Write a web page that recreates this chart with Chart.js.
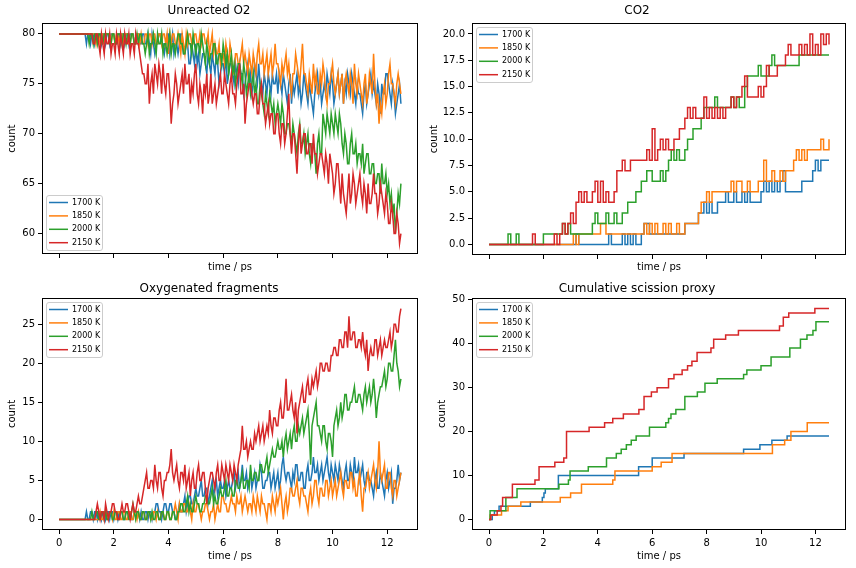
<!DOCTYPE html>
<html>
<head>
<meta charset="utf-8">
<script src="https://cdn.jsdelivr.net/npm/chart.js@4.4.0/dist/chart.umd.min.js"></script>
<style>
  html, body { margin: 0; padding: 0; background: #fff; }
  #wrap { position: relative; width: 856px; height: 568px; overflow: hidden; }
  #wrap canvas { position: absolute; }
</style>
</head>
<body>
<div id="wrap">
  <canvas id="o2" width="428" height="280" style="left:0;top:0"></canvas>
  <canvas id="co2" width="428" height="280" style="left:428px;top:0"></canvas>
  <canvas id="frag" width="428" height="288" style="left:0;top:280px"></canvas>
  <canvas id="scis" width="428" height="288" style="left:428px;top:280px"></canvas>
</div>
<script>
// temperatures + colours (matplotlib tab10)
const temps = ['1700 K', '1850 K', '2000 K', '2150 K'];
const colors = ['#1f77b4', '#ff7f0e', '#2ca02c', '#d62728'];

// O2 and fragment counts sampled every 0.05 ps, CO2 every 0.1 ps (0 .. 12.5 ps)
const dtFine = 0.05;
const dtCoarse = 0.1;

// Unreacted O2
const o2_1700 = [
  80,80,80,80,80,80,80,80,80,80,80,80,80,80,80,80,80,80,80,80,
  79,80,80,79,80,80,79,80,80,80,80,79,80,80,79,80,80,79,80,80,
  80,79,79,80,80,79,80,80,79,80,80,79,80,80,80,79,79,80,80,79,
  79,80,80,79,79,80,79,78,80,79,78,79,79,80,80,79,79,78,79,80,
  80,78,79,80,78,79,79,78,79,80,80,78,78,79,79,77,77,79,78,77,
  79,77,78,76,77,78,78,77,76,78,77,76,78,77,76,78,77,75,76,77,
  77,76,78,75,76,77,77,76,75,77,76,75,77,76,76,74,75,76,77,75,
  76,74,75,77,76,75,77,75,75,74,76,75,74,76,75,74,76,75,75,76,
  74,76,75,74,76,75,74,73,75,76,73,75,74,75,76,74,75,73,74,76,
  75,74,73,75,74,73,72,74,75,76,74,75,73,74,75,74,76,75,74,76,
  75,73,74,75,76,74,75,76,73,75,74,76,75,74,76,75,74,73,75,74,
  74,73,72,74,75,73,74,75,76,74,75,74,73,75,74,72,75,74,74,76,
  76,75,74,73,75,74,72,73,74,75,73];
const o2_1850 = [
  80,80,80,80,80,80,80,80,80,80,80,80,80,80,80,80,80,80,80,80,
  80,80,80,80,80,80,80,79,80,80,79,80,80,79,80,80,80,80,79,80,
  80,79,80,80,79,80,80,79,80,80,80,79,79,80,80,79,79,80,80,79,
  80,79,79,80,80,79,80,80,79,80,80,79,79,80,80,79,80,80,79,80,
  78,80,79,80,80,79,79,80,79,78,80,79,78,80,79,80,80,79,79,80,
  80,79,79,80,79,80,80,79,79,80,78,79,80,78,79,78,78,79,77,78,
  78,77,79,78,77,79,78,76,76,78,78,77,77,78,79,77,78,77,76,78,
  77,76,78,77,76,78,79,77,77,78,76,77,78,76,77,78,76,77,79,77,
  77,76,75,77,76,77,78,76,77,75,74,76,76,78,77,76,75,77,79,76,
  76,75,74,76,75,74,77,75,76,74,74,76,75,77,76,74,73,75,75,76,
  77,75,74,75,76,74,75,76,73,75,76,75,74,76,75,73,77,75,74,76,
  75,74,73,75,76,73,74,76,75,74,78,75,73,74,71,73,72,74,75,73,
  74,76,77,75,75,74,73,75,76,75,74];
const o2_2000 = [
  80,80,80,80,80,80,80,80,80,80,80,80,80,80,80,80,80,80,80,80,
  80,80,79,80,80,79,80,80,79,80,80,79,79,80,80,80,80,79,79,80,
  80,79,79,80,80,80,79,80,80,79,80,80,79,80,80,79,79,80,79,80,
  80,79,79,78,79,80,78,79,79,80,79,78,80,79,79,80,78,79,79,78,
  79,80,78,79,79,78,79,80,80,79,79,78,78,79,80,79,79,78,80,79,
  78,79,79,78,80,79,78,77,79,78,77,78,78,79,79,77,77,78,78,77,
  79,78,77,78,76,77,78,76,77,75,76,77,77,76,75,77,76,74,75,76,
  74,75,76,74,75,73,73,75,74,73,72,74,73,72,74,73,72,73,71,72,
  73,72,71,73,72,70,70,71,71,70,69,71,70,69,68,70,71,69,69,70,
  68,69,70,68,67,69,69,68,66,69,70,68,68,72,71,70,72,71,70,72,
  71,70,72,71,70,72,71,69,68,70,69,67,67,69,70,68,68,69,67,68,
  68,67,69,66,67,68,68,66,66,67,67,65,65,66,66,64,67,65,65,66,
  64,65,63,64,62,63,60,62,64,63,65];
const o2_2150 = [
  80,80,80,80,80,80,80,80,80,80,80,80,80,80,80,80,80,80,80,80,
  80,80,80,80,80,79,79,80,80,79,78,80,79,78,80,79,79,80,78,79,
  79,78,80,79,78,80,79,78,80,79,79,80,78,79,79,78,80,79,79,78,
  77,76,76,75,75,77,73,75,76,74,77,76,75,77,76,74,77,75,74,76,
  76,74,71,73,74,76,75,73,74,75,76,74,77,75,75,76,73,75,74,76,
  77,74,73,75,74,72,75,74,76,73,74,76,73,74,75,73,74,75,76,74,
  74,76,75,74,73,75,76,74,74,73,75,76,77,74,74,75,71,73,74,75,
  75,74,73,74,74,72,72,74,75,73,73,71,72,73,71,72,72,70,70,72,
  72,70,69,71,71,69,70,72,74,70,68,70,70,68,66,69,71,68,69,70,
  70,68,68,69,69,67,70,68,68,66,67,68,68,67,66,68,67,65,68,67,
  66,64,65,67,67,65,63,66,64,63,62,64,66,63,64,66,65,63,64,65,
  66,64,63,65,64,62,65,63,63,64,66,64,64,62,63,65,64,63,62,64,
  63,61,61,63,62,60,60,62,61,59,60];

// CO2
const co2_1700 = [0,0,0,0,0,0,0,0,0,0, 0,0,0,0,0,0,0,0,0,0, 0,0,0,0,0,0,0,0,0,0,
  0,0,1,0,0,0,0,0,0,0, 0,0,0,0,1,0,0,0,0,1, 0,1,0,1,0,0,1,2,2,1,
  1,1,1,1,1,1,1,1,1,1, 1,1,2,2,2,2,2,3,3,4, 3,4,3,3,4,4,4,5,4,4,
  5,4,4,5,4,5,4,4,4,4, 5,6,5,6,5,6,5,6,7,5, 5,5,5,5,5,6,6,6,6,7,
  8,7,8,8,8,8];
const co2_1850 = [0,0,0,0,0,0,0,0,0,0, 0,0,0,0,0,0,0,0,0,0, 0,0,0,0,0,0,0,0,0,0,
  0,1,0,1,1,1,1,1,1,1, 1,2,2,1,1,1,1,1,1,1, 1,1,1,1,1,1,1,2,1,2,
  1,2,1,1,2,1,2,1,1,2, 1,1,2,2,2,2,2,3,4,4, 5,4,5,5,5,5,5,5,5,6,
  5,6,6,5,5,6,5,5,5,6, 6,8,6,6,7,6,6,7,6,7, 7,7,8,9,8,9,8,9,9,9,
  9,9,10,9,9,10];
const co2_2000 = [0,0,0,0,0,0,0,1,0,0, 1,0,0,0,0,0,0,0,0,0, 1,1,1,1,1,1,1,2,1,2,
  1,1,1,1,1,1,1,1,2,3, 2,2,2,3,2,2,3,2,2,3, 3,4,4,4,5,5,6,6,7,7,
  6,6,6,7,6,7,8,9,8,9, 8,8,9,10,10,11,11,11,12,13, 13,13,13,14,13,13,13,13,13,14,
  13,14,13,13,15,16,16,16,16,17, 16,16,16,17,18,17,17,17,17,17, 17,17,17,17,18,18,18,18,18,18,
  18,18,18,18,18,18];
const co2_2150 = [0,0,0,0,0,0,0,0,0,0, 0,0,0,0,0,0,1,0,0,0, 0,0,0,0,1,0,1,2,1,2,
  3,2,4,5,4,5,4,4,5,6, 4,6,4,5,4,4,5,7,7,8, 7,7,8,8,8,8,8,8,9,8,
  11,8,9,10,9,10,9,9,10,10, 11,11,12,13,12,13,12,12,12,14, 12,13,12,13,12,13,12,13,13,14,
  13,14,14,15,16,14,14,14,14,15, 14,15,17,16,16,16,17,17,17,18, 19,18,18,18,19,18,19,18,20,18,
  19,18,20,19,20,19];

// Oxygenated fragments
const frag_1700 = [
  0,0,0,0,0,0,0,0,0,0,0,0,0,0,0,0,0,0,0,0,
  1,0,0,1,1,0,1,1,0,1,1,0,1,1,0,1,1,0,1,1,
  0,1,1,0,1,1,1,0,0,1,1,1,1,0,0,1,1,1,1,0,
  1,0,0,1,1,0,1,1,0,1,1,2,2,1,1,0,1,2,2,1,
  1,2,2,1,1,0,0,1,2,1,1,2,3,1,2,3,3,2,2,3,
  4,3,3,4,5,3,3,4,4,2,3,4,5,3,4,5,3,4,5,4,
  4,5,3,4,5,4,4,5,6,4,5,6,4,5,7,5,5,6,4,5,
  6,4,5,6,4,5,5,7,6,4,4,5,5,6,6,4,5,6,4,5,
  6,4,5,7,8,6,5,6,6,5,4,6,5,7,7,5,5,6,6,4,
  4,6,7,5,5,6,8,6,6,7,5,6,7,5,6,7,8,6,5,7,
  6,5,7,6,5,7,6,5,4,6,7,5,5,7,6,5,8,6,6,7,
  5,6,7,5,4,6,6,5,5,4,3,5,6,4,4,6,5,4,3,5,
  6,4,5,6,2,4,4,5,7,5,6];
const frag_1850 = [
  0,0,0,0,0,0,0,0,0,0,0,0,0,0,0,0,0,0,0,0,
  0,0,0,0,0,0,0,0,0,0,1,0,0,1,1,0,0,1,1,0,
  1,0,0,1,1,0,0,1,1,0,0,1,1,0,0,1,1,0,1,0,
  0,1,1,0,0,1,1,0,0,1,1,0,1,0,0,1,1,0,0,1,
  1,0,0,1,1,2,1,0,2,1,1,2,2,1,1,2,1,0,2,1,
  1,2,2,1,0,1,1,2,2,1,0,1,1,2,0,1,2,1,1,3,
  3,2,2,1,1,2,3,2,2,1,3,2,2,3,1,2,3,2,1,2,
  2,1,3,2,1,3,2,1,3,2,2,1,0,2,2,1,3,2,1,3,
  2,3,4,2,0,2,3,1,2,4,4,3,3,4,5,3,2,4,4,3,
  3,2,1,3,4,2,3,5,5,3,2,4,4,3,3,5,5,3,4,5,
  3,4,5,3,4,5,6,4,3,5,5,4,4,6,6,4,5,3,3,5,
  6,3,1,4,4,5,6,4,5,6,7,5,4,6,10,6,5,6,7,4,
  4,6,6,4,3,5,5,3,4,5,6];
const frag_2000 = [
  0,0,0,0,0,0,0,0,0,0,0,0,0,0,0,0,0,0,0,0,
  0,0,0,0,1,0,0,1,1,0,0,1,1,0,1,0,0,1,1,0,
  0,1,1,0,0,1,1,0,0,1,1,0,0,1,2,1,0,1,1,0,
  0,1,1,0,0,1,1,0,1,0,0,1,1,0,0,1,1,0,0,1,
  1,0,0,1,1,0,0,1,1,2,2,1,1,2,3,1,2,1,1,2,
  3,2,2,1,1,2,2,3,3,2,2,3,4,2,3,2,2,3,4,3,
  3,4,5,3,3,4,4,3,3,5,5,4,4,5,6,4,4,5,5,4,
  7,5,5,6,6,5,5,7,7,6,6,7,8,6,7,8,9,8,8,9,
  10,9,9,10,8,10,11,9,10,11,9,11,12,10,10,12,11,12,13,11,
  12,13,14,11,7,12,13,14,15,12,12,11,10,12,12,10,9,11,11,10,
  8,12,13,14,12,13,15,13,14,16,16,14,14,15,15,16,17,15,15,16,
  16,15,14,16,17,15,16,17,15,16,18,16,13,15,16,17,17,18,19,17,
  18,20,20,19,19,21,23,20,19,17,18];
const frag_2150 = [
  0,0,0,0,0,0,0,0,0,0,0,0,0,0,0,0,0,0,0,0,
  0,0,0,0,0,0,0,1,2,1,0,1,1,0,2,1,0,1,1,2,
  2,1,1,0,0,1,2,1,1,2,2,1,0,1,2,1,1,2,3,2,
  2,3,4,5,6,4,4,5,5,4,7,5,4,6,6,4,3,5,5,6,
  6,7,9,6,5,6,7,5,4,6,6,5,7,4,5,6,3,5,6,4,
  4,6,7,5,5,6,6,4,2,4,5,6,6,5,4,6,7,5,5,7,
  6,5,7,6,5,7,6,5,7,6,5,7,8,9,12,9,9,10,8,9,
  10,9,9,11,10,11,12,10,11,12,10,11,12,11,14,12,11,13,13,12,
  12,14,15,13,13,15,18,14,14,15,16,14,13,15,11,14,15,16,17,15,
  15,17,18,16,16,18,17,18,19,17,18,20,20,19,19,20,20,19,19,21,
  21,22,22,21,21,23,23,22,22,24,24,22,26,23,23,24,24,22,22,23,
  23,22,24,22,21,23,19,21,22,21,21,23,23,21,22,23,21,22,23,22,
  22,23,24,22,23,25,25,24,24,26,27];

// Cumulative scission proxy: time of each step and the count reached
const scisTimes_1700 = [0, 0.12, 0.2, 0.37, 1.52, 1.96, 2.02, 2.07, 2.55, 5.5, 6.0, 7.17, 9.36, 9.96, 10.4, 10.96, 12.5];
const scisVals_1700  = [0, 1, 2, 3, 4, 5, 6, 7, 10, 12, 14, 15, 16, 17, 18, 19, 19];
const scisTimes_1850 = [0, 0.04, 0.46, 0.7, 1.17, 2.62, 3.0, 3.4, 4.55, 4.63, 6.0, 6.33, 6.73, 10.42, 10.87, 11.1, 11.7, 12.5];
const scisVals_1850  = [0, 1, 2, 3, 4, 5, 6, 8, 9, 11, 12, 13, 15, 17, 18, 20, 22, 22];
const scisTimes_2000 = [0, 0.04, 0.62, 1.03, 2.57, 2.92, 2.98, 3.65, 4.32, 4.68, 4.86, 5.05, 5.23, 5.41, 5.9, 6.5, 6.6,
  6.69, 6.87, 7.2, 7.66, 7.94, 8.39, 9.36, 9.48, 10.0, 10.37, 11.06, 11.45, 11.69, 11.91, 12.02, 12.5];
const scisVals_2000  = [0, 2, 5, 7, 8, 9, 11, 12, 14, 15, 16, 17, 18, 19, 21, 22, 23,
  24, 25, 28, 29, 31, 32, 33, 34, 35, 37, 39, 41, 42, 43, 45, 45];
const scisTimes_2150 = [0, 0.07, 0.3, 0.44, 0.5, 0.86, 1.69, 1.84, 2.42, 2.75, 2.85, 3.68, 4.25, 4.55, 4.94, 5.51, 5.7,
  5.97, 6.18, 6.6, 6.8, 7.1, 7.3, 7.46, 7.65, 8.16, 8.26, 8.7, 9.17, 10.68, 10.82, 11.02, 11.98, 12.5];
const scisVals_2150  = [0, 1, 2, 3, 5, 8, 9, 12, 13, 14, 20, 21, 22, 23, 24, 25, 28,
  29, 30, 32, 33, 34, 35, 36, 38, 39, 41, 42, 43, 44, 46, 47, 48, 48];

Chart.defaults.font.family = '"DejaVu Sans", sans-serif';
Chart.defaults.color = '#000';

const X_MIN = -0.625, X_MAX = 13.125;

const sampled = (vals, dt) => vals.map((v, i) => ({ x: Math.round(i * dt * 100) / 100, y: v }));
const stepsOf = (ts, vals) => ts.map((t, i) => ({ x: t, y: vals[i] }));

function makeSets(list, stepped) {
  return list.map((d, i) => ({
    label: temps[i],
    data: d,
    borderColor: colors[i],
    backgroundColor: colors[i],
    borderWidth: 1.5,
    pointRadius: 0,
    tension: 0,
    stepped: stepped ? 'before' : false,
    order: list.length - i   // later series on top, like matplotlib
  }));
}

// black box round the axes
const frame = {
  id: 'frame',
  afterDatasetsDraw(chart) {
    const { ctx, chartArea: a } = chart;
    const l = Math.round(a.left) + 0.5, t = Math.round(a.top) + 0.5;
    const r = Math.round(a.right) - 0.5, b = Math.round(a.bottom) - 0.5;
    ctx.save();
    ctx.strokeStyle = '#000';
    ctx.lineWidth = 1;
    ctx.strokeRect(l, t, r - l, b - t);
    ctx.restore();
  }
};

// matplotlib style legend inside the axes
const boxLegend = {
  id: 'boxLegend',
  afterDraw(chart, args, opts) {
    const { ctx, chartArea: a } = chart;
    const w = 56, h = 55;
    const x = Math.round(a.left) + 4;
    const y = opts.corner === 'bl' ? Math.round(a.bottom) - 4 - h : Math.round(a.top) + 4;
    ctx.save();
    ctx.beginPath();
    ctx.roundRect(x + 0.5, y + 0.5, w, h, 2.5);
    ctx.fillStyle = 'rgba(255,255,255,0.8)';
    ctx.fill();
    ctx.strokeStyle = '#cccccc';
    ctx.lineWidth = 1;
    ctx.stroke();
    ctx.font = '8px "DejaVu Sans"';
    ctx.textBaseline = 'middle';
    chart.data.datasets.forEach((ds, i) => {
      const cy = y + 7.5 + i * 13.4;
      ctx.beginPath();
      ctx.moveTo(x + 3, cy);
      ctx.lineTo(x + 22, cy);
      ctx.strokeStyle = ds.borderColor;
      ctx.lineWidth = 1.5;
      ctx.stroke();
      ctx.fillStyle = '#000';
      ctx.fillText(ds.label, x + 26, cy);
    });
    ctx.restore();
  }
};

function panel(id, cfg) {
  return new Chart(document.getElementById(id), {
    type: 'line',
    data: { datasets: cfg.datasets },
    options: {
      responsive: false,
      animation: false,
      events: [],
      layout: { padding: { left: 0, right: 10, top: 0, bottom: 0 } },
      plugins: {
        legend: { display: false },
        tooltip: { enabled: false },
        title: { display: true, text: cfg.title, font: { size: 12, weight: 'normal' }, padding: cfg.titlePad },
        boxLegend: { corner: cfg.corner }
      },
      scales: {
        x: {
          type: 'linear', min: X_MIN, max: X_MAX,
          border: { display: false },
          grid: { drawOnChartArea: false, tickLength: 4, tickColor: '#000' },
          ticks: { display: cfg.xLabels, stepSize: 2, includeBounds: false, autoSkip: false, maxRotation: 0, font: { size: 10 } },
          title: { display: true, text: 'time / ps', font: { size: 10 }, padding: { top: 0, bottom: cfg.xTitleGap } },
          afterFit: s => { s.height = cfg.xHeight; }
        },
        y: {
          type: 'linear', min: cfg.yMin, max: cfg.yMax,
          border: { display: false },
          grid: { drawOnChartArea: false, tickLength: 4, tickColor: '#000' },
          ticks: { stepSize: cfg.yStep, includeBounds: false, autoSkip: false, font: { size: 10 },
                   callback: cfg.yFormat || (v => v) },
          title: { display: true, text: 'count', font: { size: 10 }, padding: { top: cfg.yTitleGap, bottom: 0 } },
          afterFit: s => { s.width = cfg.yWidth; }
        }
      }
    },
    plugins: [frame, boxLegend]
  });
}

panel('o2', {
  title: 'Unreacted O2',
  datasets: makeSets([o2_1700, o2_1850, o2_2000, o2_2150].map(v => sampled(v, dtFine)), false),
  yMin: 57.95, yMax: 81.05, yStep: 5,
  titlePad: { top: 4, bottom: 5 }, xLabels: false, xHeight: 26, xTitleGap: 7,
  yWidth: 42, yTitleGap: 6, corner: 'bl'
});

panel('co2', {
  title: 'CO2',
  datasets: makeSets([co2_1700, co2_1850, co2_2000, co2_2150].map(v => sampled(v, dtCoarse)), true),
  yMin: -1, yMax: 21, yStep: 2.5, yFormat: v => v.toFixed(1),
  titlePad: { top: 4, bottom: 5 }, xLabels: false, xHeight: 25, xTitleGap: 7,
  yWidth: 44, yTitleGap: 0, corner: 'tl'
});

panel('frag', {
  title: 'Oxygenated fragments',
  datasets: makeSets([frag_1700, frag_1850, frag_2000, frag_2150].map(v => sampled(v, dtFine)), false),
  yMin: -1.35, yMax: 28.35, yStep: 5,
  titlePad: { top: 2, bottom: 1.6 }, xLabels: true, xHeight: 38, xTitleGap: 6,
  yWidth: 42, yTitleGap: 6, corner: 'tl'
});

panel('scis', {
  title: 'Cumulative scission proxy',
  datasets: makeSets([
    stepsOf(scisTimes_1700, scisVals_1700),
    stepsOf(scisTimes_1850, scisVals_1850),
    stepsOf(scisTimes_2000, scisVals_2000),
    stepsOf(scisTimes_2150, scisVals_2150)
  ], true),
  yMin: -2.4, yMax: 50.4, yStep: 10,
  titlePad: { top: 2, bottom: 1.6 }, xLabels: true, xHeight: 38, xTitleGap: 6,
  yWidth: 44, yTitleGap: 8, corner: 'tl'
});
</script>
</body>
</html>
